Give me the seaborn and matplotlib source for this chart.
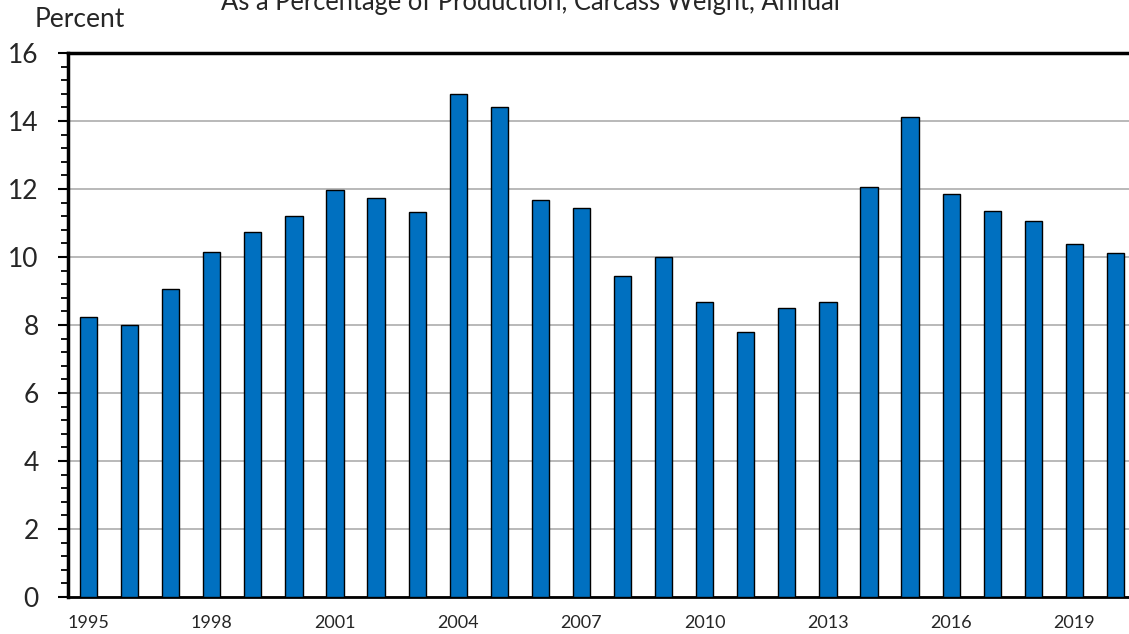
import pandas as pd
import numpy as np
import matplotlib.pyplot as plt
import seaborn as sns
from matplotlib.ticker import MultipleLocator, FixedLocator

years = [str(y) for y in range(1995, 2021)]
percent = [8.24, 8.0, 9.06, 10.15, 10.74, 11.2, 11.97, 11.74, 11.32, 14.8,
           14.41, 11.68, 11.44, 9.44, 10.0, 8.68, 7.79, 8.5, 8.68, 12.06,
           14.12, 11.85, 11.35, 11.06, 10.38, 10.12]
tick_years = ["1995", "1998", "2001", "2004", "2007", "2010", "2013", "2016", "2019"]

df = pd.DataFrame({"Year": years, "Percent": percent})

sns.set_style("white")
plt.rcParams["font.family"] = ["Lato", "DejaVu Sans"]

fig = plt.figure(figsize=(11.29, 6.34), dpi=100)
ax = fig.add_axes([68 / 1129, 37 / 634, 1068 / 1129, 544 / 634])

sns.barplot(data=df, x="Year", y="Percent", order=years, color="#0070C0",
            edgecolor="black", linewidth=1, width=0.42, saturation=1, ax=ax, zorder=3)

ax.set_xlim(-0.5, len(years) - 0.5)
ax.set_ylim(0, 16)
ax.yaxis.set_major_locator(MultipleLocator(2))
ax.yaxis.set_minor_locator(MultipleLocator(0.4))
ax.grid(axis="y", color="#b3b3b3", linewidth=1.3, zorder=0)
ax.set_axisbelow(True)

# x labels every third year, tick marks on category boundaries
ax.xaxis.set_major_locator(FixedLocator([years.index(y) for y in tick_years]))
ax.set_xticklabels(tick_years)
ax.xaxis.set_minor_locator(FixedLocator(np.arange(-0.5, len(years), 1)))
ax.tick_params(axis="x", which="major", length=0, pad=13, labelsize=13)
ax.tick_params(axis="x", which="minor", length=5, width=1.3, direction="out", color="black")
ax.tick_params(axis="y", which="major", length=7, width=1.5, direction="out", pad=14,
               labelsize=19, left=True, color="black")
ax.tick_params(axis="y", which="minor", length=5, width=1.3, direction="out", left=True, color="black")

ax.set_xlabel("")
ax.set_ylabel("")
ax.spines["left"].set_linewidth(2.5)
ax.spines["top"].set_linewidth(2.5)
ax.spines["bottom"].set_linewidth(2)
ax.spines["right"].set_visible(False)
for s in ["left", "top", "bottom"]:
    ax.spines[s].set_color("black")

fig.text(80 / 1129, 1 - 27 / 634, "Percent", fontsize=19, ha="center", va="baseline")
fig.text(530 / 1129, 1 - 10 / 634, "As a Percentage of Production, Carcass Weight, Annual",
         fontsize=18.4, ha="center", va="baseline")

plt.savefig("out.png", dpi=100)
